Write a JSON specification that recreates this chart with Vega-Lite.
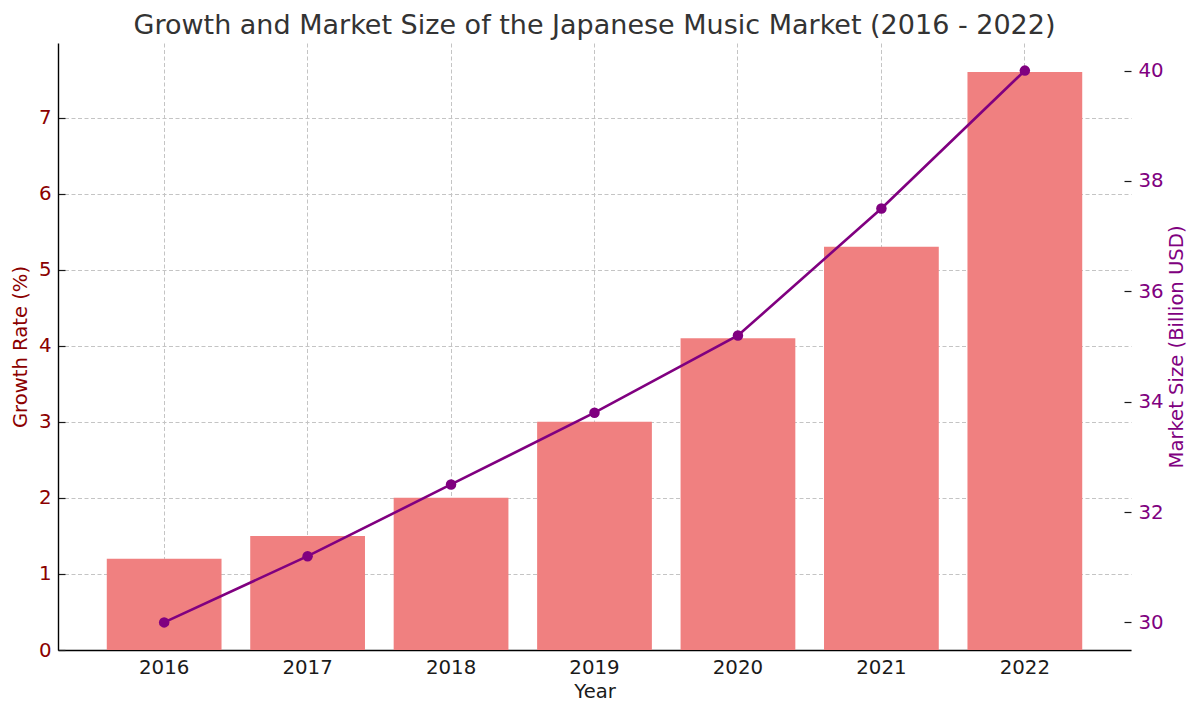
{
  "$schema": "https://vega.github.io/schema/vega-lite/v6.json",
  "width": 1073,
  "height": 607,
  "autosize": "none",
  "padding": {"left": 58, "top": 43, "right": 69, "bottom": 65},
  "title": {
    "text": "Growth and Market Size of the Japanese Music Market (2016 - 2022)",
    "font": "DejaVu Sans",
    "fontSize": 27,
    "fontWeight": "normal",
    "color": "#333333",
    "anchor": "middle",
    "frame": "group",
    "offset": 3
  },
  "config": {
    "view": {"stroke": null},
    "font": "DejaVu Sans",
    "axis": {
      "labelFont": "DejaVu Sans",
      "titleFont": "DejaVu Sans",
      "labelFontSize": 19.8,
      "titleFontSize": 19.6,
      "titleFontWeight": "normal",
      "labelColor": "#1a1a1a",
      "titleColor": "#1a1a1a",
      "grid": true,
      "gridColor": "#c4c4c4",
      "gridDash": [4, 2.5],
      "gridWidth": 1,
      "tickSize": -7,
      "tickColor": "#1a1a1a",
      "tickWidth": 1.2,
      "domainColor": "#000000",
      "domainWidth": 1.4,
      "labelPadding": 14,
      "zindex": 1
    }
  },
  "data": {
    "values": [
      {"year": "2016", "growth": 1.2, "market": 30.0},
      {"year": "2017", "growth": 1.5, "market": 31.2},
      {"year": "2018", "growth": 2.0, "market": 32.5},
      {"year": "2019", "growth": 3.0, "market": 33.8},
      {"year": "2020", "growth": 4.1, "market": 35.2},
      {"year": "2021", "growth": 5.3, "market": 37.5},
      {"year": "2022", "growth": 7.6, "market": 40.0}
    ]
  },
  "encoding": {
    "x": {
      "field": "year",
      "type": "ordinal",
      "scale": {"paddingInner": 0.2, "paddingOuter": 0.34},
      "axis": {"title": "Year", "labelAngle": 0, "bandPosition": 0.5, "titlePadding": 6}
    }
  },
  "layer": [
    {
      "mark": {"type": "bar", "color": "#F08080"},
      "encoding": {
        "y": {
          "field": "growth",
          "type": "quantitative",
          "scale": {"domain": [0, 7.98], "nice": false, "zero": true},
          "axis": {
            "title": "Growth Rate (%)",
            "orient": "left",
            "values": [0, 1, 2, 3, 4, 5, 6, 7],
            "labelColor": "#8B0000",
            "titleColor": "#8B0000",
            "titlePadding": 8
          }
        }
      }
    },
    {
      "mark": {
        "type": "line",
        "color": "#800080",
        "strokeWidth": 2.6,
        "point": {"filled": true, "size": 110, "color": "#800080"}
      },
      "encoding": {
        "y": {
          "field": "market",
          "type": "quantitative",
          "scale": {"domain": [29.5, 40.5], "nice": false, "zero": false},
          "axis": {
            "title": "Market Size (Billion USD)",
            "orient": "right",
            "values": [30, 32, 34, 36, 38, 40],
            "domain": false,
            "labelColor": "#800080",
            "titleColor": "#800080",
            "titleAngle": 270,
            "titlePadding": 23
          }
        }
      }
    }
  ],
  "resolve": {"scale": {"y": "independent"}}
}
